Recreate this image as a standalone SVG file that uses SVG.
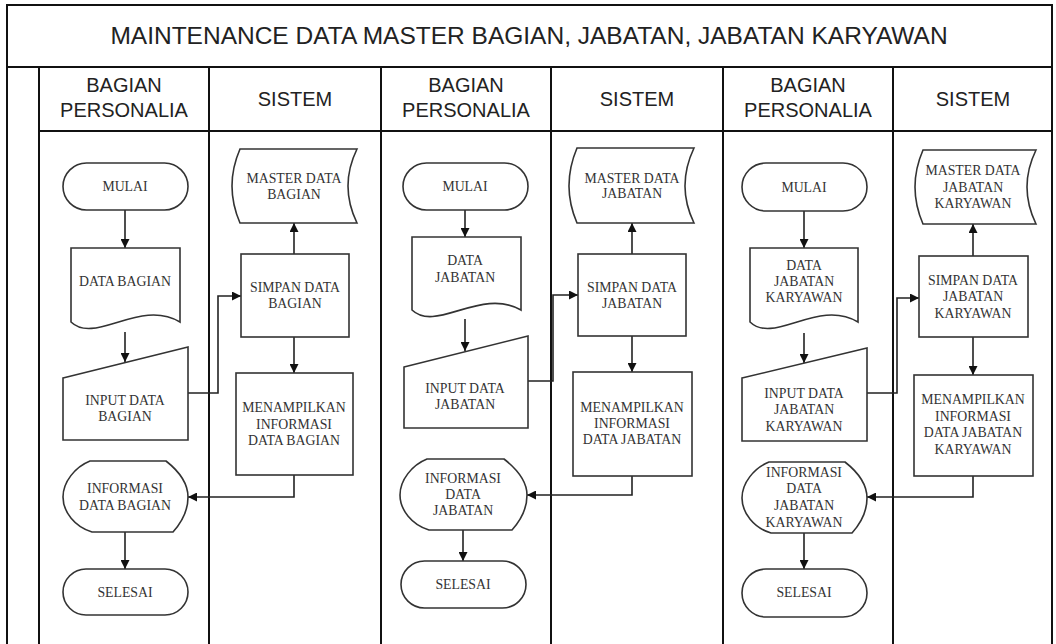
<svg xmlns="http://www.w3.org/2000/svg" width="1056" height="644" viewBox="0 0 1056 644">
<defs>
<marker id="ah" markerWidth="9" markerHeight="9" refX="9" refY="4.5" orient="auto" markerUnits="userSpaceOnUse">
<path d="M0,0 L9,4.5 L0,9 Z" fill="#111"/>
</marker>
<style>
.frame{fill:none;stroke:#111;stroke-width:2}
.lane{fill:none;stroke:#111;stroke-width:2}
.shape{fill:#fff;stroke:#333;stroke-width:1.6}
.conn{fill:none;stroke:#222;stroke-width:1.6;marker-end:url(#ah)}
.t{font-family:"Liberation Serif","Times New Roman",serif;font-size:13.8px;fill:#333;text-anchor:middle}
.h{font-family:"Liberation Sans",Arial,sans-serif;font-size:20px;fill:#222;text-anchor:middle}
.title{font-family:"Liberation Sans",Arial,sans-serif;font-size:24.5px;fill:#222;text-anchor:middle}
</style>
</defs>
<rect width="1056" height="644" fill="#fff"/>

<g id="frame">
<path class="frame" d="M7,644 V5 H1052 V644"/>
<line class="frame" x1="7" y1="67" x2="1052" y2="67" stroke-width="2.5"/>
<line class="lane" x1="39" y1="131" x2="1052" y2="131"/>
<line class="lane" x1="39" y1="67" x2="39" y2="644"/>
<line class="lane" x1="209" y1="67" x2="209" y2="644"/>
<line class="lane" x1="381" y1="67" x2="381" y2="644"/>
<line class="lane" x1="551" y1="67" x2="551" y2="644"/>
<line class="lane" x1="723" y1="67" x2="723" y2="644"/>
<line class="lane" x1="893" y1="67" x2="893" y2="644"/>
<text class="title" x="529" y="44">MAINTENANCE DATA MASTER BAGIAN, JABATAN, JABATAN KARYAWAN</text>
<text class="h" x="124" y="92">BAGIAN</text>
<text class="h" x="124" y="117">PERSONALIA</text>
<text class="h" x="295" y="106">SISTEM</text>
<text class="h" x="466" y="92">BAGIAN</text>
<text class="h" x="466" y="117">PERSONALIA</text>
<text class="h" x="637" y="106">SISTEM</text>
<text class="h" x="808" y="92">BAGIAN</text>
<text class="h" x="808" y="117">PERSONALIA</text>
<text class="h" x="973" y="106">SISTEM</text>
</g>

<g id="connectors">
<path class="conn" d="M125,210 V248"/>
<path class="conn" d="M125,332 V362"/>
<path class="conn" d="M188,393 H218 V296 H241"/>
<path class="conn" d="M294,254 V223"/>
<path class="conn" d="M294,337 V373"/>
<path class="conn" d="M294,475 V497 H188"/>
<path class="conn" d="M125,532 V569"/>

<path class="conn" d="M465,210 V237"/>
<path class="conn" d="M465,319 V351"/>
<path class="conn" d="M528,381 H553 V295 H578"/>
<path class="conn" d="M632,254 V223"/>
<path class="conn" d="M632,336 V372"/>
<path class="conn" d="M632,476 V495 H527"/>
<path class="conn" d="M463,530 V561"/>

<path class="conn" d="M804,211 V248"/>
<path class="conn" d="M804,333 V363"/>
<path class="conn" d="M867,393 H897 V298 H919"/>
<path class="conn" d="M973,256 V224"/>
<path class="conn" d="M973,337 V375"/>
<path class="conn" d="M973,476 V497 H867"/>
<path class="conn" d="M804,533 V569"/>
</g>

<!-- Section 1: BAGIAN -->
<g id="mulai1"><rect class="shape" x="63" y="163" width="125" height="47" rx="23.5"/><text class="t" x="125" y="191">MULAI</text></g>
<g id="databagian"><path class="shape" d="M71,248 H180 V322 C140,298 95,345 71,322 Z"/><text class="t" x="125" y="286">DATA BAGIAN</text></g>
<g id="inputbagian"><path class="shape" d="M63,378 L188,347 L188,440 L63,440 Z"/><text class="t" x="125" y="405">INPUT DATA</text><text class="t" x="125" y="421">BAGIAN</text></g>
<g id="masterbagian"><path class="shape" d="M240,149 H357 Q339,186 357,223 H240 Q224,186 240,149 Z"/><text class="t" x="294" y="183">MASTER DATA</text><text class="t" x="294" y="199">BAGIAN</text></g>
<g id="simpanbagian"><rect class="shape" x="241" y="254" width="108" height="83"/><text class="t" x="295" y="292">SIMPAN DATA</text><text class="t" x="295" y="308">BAGIAN</text></g>
<g id="tampilbagian"><rect class="shape" x="236" y="373" width="117" height="102"/><text class="t" x="294" y="412">MENAMPILKAN</text><text class="t" x="294" y="429">INFORMASI</text><text class="t" x="294" y="445">DATA BAGIAN</text></g>
<g id="infobagian"><path class="shape" d="M90,461 H166 C180,472 188,485 188,497 C188,510 182,522 173,532 H92 C75,527 63,512 63,497 C63,482 75,467 90,461 Z"/><text class="t" x="125" y="493">INFORMASI</text><text class="t" x="125" y="510">DATA BAGIAN</text></g>
<g id="selesai1"><rect class="shape" x="63" y="569" width="125" height="46" rx="23"/><text class="t" x="125" y="597">SELESAI</text></g>

<!-- Section 2: JABATAN -->
<g id="mulai2"><rect class="shape" x="403" y="163" width="125" height="47" rx="23.5"/><text class="t" x="465" y="191">MULAI</text></g>
<g id="datajabatan"><path class="shape" d="M412,237 H521 V310 C481,287 436,333 412,310 Z"/><text class="t" x="465" y="265">DATA</text><text class="t" x="465" y="282">JABATAN</text></g>
<g id="inputjabatan"><path class="shape" d="M404,367 L528,336 L528,428 L404,428 Z"/><text class="t" x="465" y="393">INPUT DATA</text><text class="t" x="465" y="409">JABATAN</text></g>
<g id="masterjabatan"><path class="shape" d="M577,148 H694 Q676,186 694,223 H577 Q561,186 577,148 Z"/><text class="t" x="632" y="183">MASTER DATA</text><text class="t" x="632" y="198">JABATAN</text></g>
<g id="simpanjabatan"><rect class="shape" x="578" y="254" width="108" height="82"/><text class="t" x="632" y="292">SIMPAN DATA</text><text class="t" x="632" y="308">JABATAN</text></g>
<g id="tampiljabatan"><rect class="shape" x="573" y="372" width="119" height="104"/><text class="t" x="632" y="412">MENAMPILKAN</text><text class="t" x="632" y="428">INFORMASI</text><text class="t" x="632" y="444">DATA JABATAN</text></g>
<g id="infojabatan"><path class="shape" d="M427,459 H504 C518,470 527,482 527,495 C527,508 521,520 512,530 H429 C412,525 400,510 400,495 C400,480 412,465 427,459 Z"/><text class="t" x="463" y="483">INFORMASI</text><text class="t" x="463" y="499">DATA</text><text class="t" x="463" y="515">JABATAN</text></g>
<g id="selesai2"><rect class="shape" x="401" y="561" width="125" height="47" rx="23.5"/><text class="t" x="463" y="589">SELESAI</text></g>

<!-- Section 3: JABATAN KARYAWAN -->
<g id="mulai3"><rect class="shape" x="742" y="163" width="125" height="48" rx="24"/><text class="t" x="804" y="192">MULAI</text></g>
<g id="datajabkar"><path class="shape" d="M750,248 H858 V322 C818,298 774,345 750,322 Z"/><text class="t" x="804" y="270">DATA</text><text class="t" x="804" y="286">JABATAN</text><text class="t" x="804" y="302">KARYAWAN</text></g>
<g id="inputjabkar"><path class="shape" d="M742,378 L867,348 L867,441 L742,441 Z"/><text class="t" x="804" y="398">INPUT DATA</text><text class="t" x="804" y="414">JABATAN</text><text class="t" x="804" y="431">KARYAWAN</text></g>
<g id="masterjabkar"><path class="shape" d="M923,150 H1036 Q1018,187 1036,224 H923 Q907,187 923,150 Z"/><text class="t" x="973" y="175">MASTER DATA</text><text class="t" x="973" y="192">JABATAN</text><text class="t" x="973" y="208">KARYAWAN</text></g>
<g id="simpanjabkar"><rect class="shape" x="919" y="256" width="109" height="81"/><text class="t" x="973" y="285">SIMPAN DATA</text><text class="t" x="973" y="301">JABATAN</text><text class="t" x="973" y="318">KARYAWAN</text></g>
<g id="tampiljabkar"><rect class="shape" x="914" y="375" width="119" height="101"/><text class="t" x="973" y="404">MENAMPILKAN</text><text class="t" x="973" y="421">INFORMASI</text><text class="t" x="973" y="437">DATA JABATAN</text><text class="t" x="973" y="454">KARYAWAN</text></g>
<g id="infojabkar"><path class="shape" d="M769,462 H845 C859,473 867,486 867,498 C867,511 861,523 852,533 H771 C754,528 742,513 742,498 C742,483 754,468 769,462 Z"/><text class="t" x="804" y="477">INFORMASI</text><text class="t" x="804" y="493">DATA</text><text class="t" x="804" y="510">JABATAN</text><text class="t" x="804" y="527">KARYAWAN</text></g>
<g id="selesai3"><rect class="shape" x="742" y="569" width="125" height="48" rx="24"/><text class="t" x="804" y="597">SELESAI</text></g>
</svg>
